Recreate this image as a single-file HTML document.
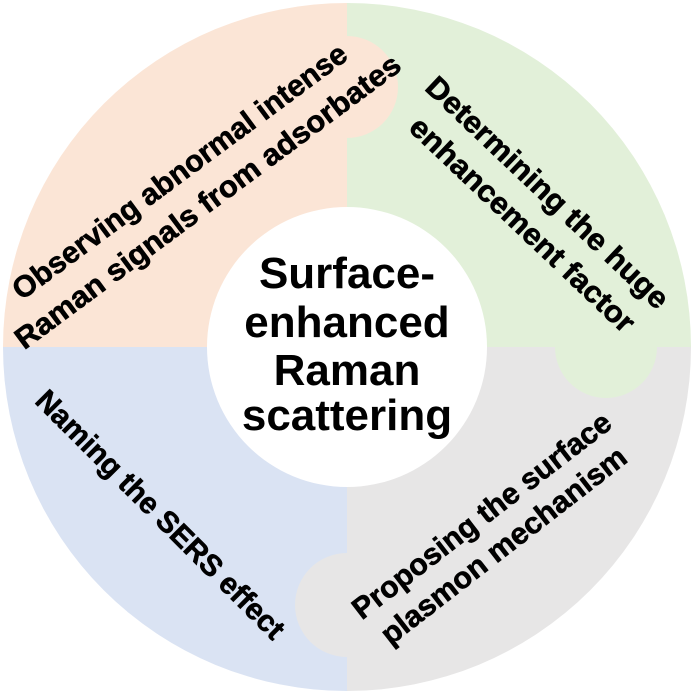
<!DOCTYPE html>
<html><head><style>html,body{margin:0;padding:0;background:#fff;}svg{display:block}</style></head>
<body>
<svg width="694" height="693" viewBox="0 0 694 693" xmlns="http://www.w3.org/2000/svg" font-family="'Liberation Sans', Arial, sans-serif" font-weight="bold">
<path d="M347,347 L3,347 A344,344 0 0 1 347,3 Z" fill="#fbe5d6"/>
<path d="M347,347 L347,3 A344,344 0 0 1 691,347 Z" fill="#e2f0d9"/>
<path d="M347,347 L691,347 A344,344 0 0 1 347,691 Z" fill="#e7e6e6"/>
<path d="M347,347 L347,691 A344,344 0 0 1 3,347 Z" fill="#dae3f3"/>
<circle cx="347" cy="87" r="51" fill="#fbe5d6"/>
<circle cx="606" cy="347" r="51" fill="#e2f0d9"/>
<circle cx="347" cy="605" r="52" fill="#e7e6e6"/>
<circle cx="347" cy="347" r="140" fill="#fff"/>
<g font-size="44" text-anchor="middle" fill="#000">
<text x="347" y="288">Surface-</text>
<text x="347" y="337">enhanced</text>
<text x="347" y="385">Raman</text>
<text x="347" y="430">scattering</text>
</g>
<g font-size="30" text-anchor="middle" dominant-baseline="central" fill="#000" stroke="#000" stroke-width="0.6">
<text transform="translate(180,172) rotate(-36.5)" textLength="408" lengthAdjust="spacingAndGlyphs">Observing abnormal intense</text>
<text transform="translate(208,202) rotate(-36.6)" textLength="472" lengthAdjust="spacingAndGlyphs">Raman signals from adsorbates</text>
<text transform="translate(547,193) rotate(43.5)" textLength="322" lengthAdjust="spacingAndGlyphs">Determining the huge</text>
<text transform="translate(522,225) rotate(43.5)" textLength="298" lengthAdjust="spacingAndGlyphs">enhancement factor</text>
<text transform="translate(482,516) rotate(-37.6)" textLength="318" lengthAdjust="spacingAndGlyphs">Proposing the surface</text>
<text transform="translate(504,546) rotate(-37.8)" textLength="302" lengthAdjust="spacingAndGlyphs">plasmon mechanism</text>
<text transform="translate(160,515) rotate(45)" textLength="338" lengthAdjust="spacingAndGlyphs">Naming the SERS effect</text>
</g>
</svg>
</body></html>
